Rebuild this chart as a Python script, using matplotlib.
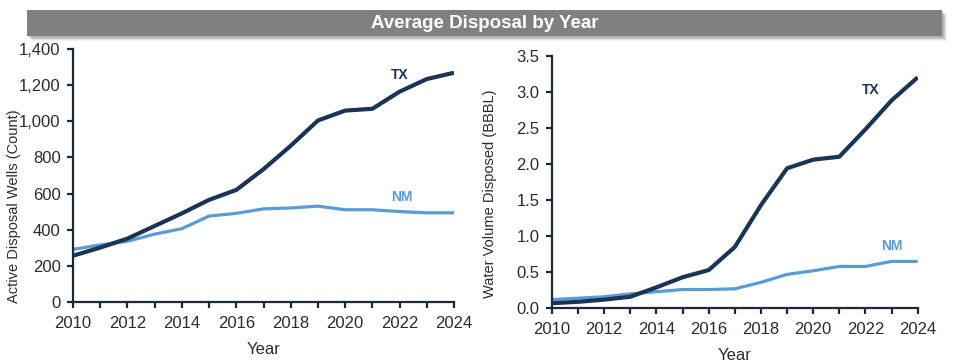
import matplotlib
matplotlib.use('Agg')
import matplotlib.pyplot as plt
from matplotlib.patches import Rectangle
from matplotlib.ticker import FuncFormatter

plt.rcParams['font.family'] = ['Liberation Sans', 'DejaVu Sans']

years = list(range(2010, 2025))
# active disposal wells (count)
tx_wells = [255, 300, 350, 420, 490, 565, 620, 735, 865, 1005, 1060, 1070, 1165, 1235, 1270]
nm_wells = [290, 315, 335, 375, 405, 475, 490, 515, 520, 530, 510, 510, 500, 493, 493]
# water volume disposed (BBBL)
tx_vol = [0.07, 0.09, 0.12, 0.16, 0.29, 0.43, 0.53, 0.85, 1.43, 1.94, 2.06, 2.10, 2.48, 2.88, 3.20]
nm_vol = [0.12, 0.14, 0.16, 0.20, 0.23, 0.26, 0.26, 0.27, 0.36, 0.47, 0.52, 0.58, 0.58, 0.65, 0.65]

tx_col = '#1B3456'
nm_col = '#5B9BD5'
ax_col = '#1A2A3C'
txt_col = '#262C36'

fig = plt.figure(figsize=(9.55, 3.64), dpi=100)

# title bar with shadow
W, H = 955, 364
for i, a in enumerate([0.05, 0.07, 0.09, 0.12]):
    off = 5 - i
    fig.patches.append(Rectangle(((27 + off) / W, 1 - (36 + off) / H), 915 / W, 26 / H,
                                 transform=fig.transFigure, facecolor='black', alpha=a,
                                 edgecolor='none', zorder=0))
fig.patches.append(Rectangle((27 / W, 1 - 36 / H), 915 / W, 26 / H, transform=fig.transFigure,
                             facecolor='#808080', edgecolor='none', zorder=1))
fig.text(485 / W, 1 - 23 / H, 'Average Disposal by Year', color='white', fontsize=13.5,
         fontweight='bold', ha='center', va='center', zorder=2)

ax1 = fig.add_axes([73 / W, 1 - 301.7 / H, 381 / W, 252.4 / H])
ax2 = fig.add_axes([552 / W, 1 - 308.3 / H, 365.7 / W, 252.6 / H])


def style(ax):
    for s in ['top', 'right']:
        ax.spines[s].set_visible(False)
    for s in ['left', 'bottom']:
        ax.spines[s].set_color(ax_col)
        ax.spines[s].set_linewidth(1.6)
    ax.tick_params(axis='both', colors=ax_col, labelcolor=txt_col, labelsize=12,
                   width=1.6, length=4, direction='out')
    ax.tick_params(axis='x', pad=6)
    ax.tick_params(axis='y', pad=5)
    ax.set_xlim(2010, 2024)
    ax.set_xticks(years)
    ax.set_xticklabels([str(y) if y % 2 == 0 else '' for y in years])
    ax.set_xlabel('Year', fontsize=12, color=txt_col, labelpad=8)


ax1.plot(years, nm_wells, color=nm_col, lw=2.3, solid_capstyle='butt', zorder=2)
ax1.plot(years, tx_wells, color=tx_col, lw=3.0, solid_capstyle='butt', zorder=3)
ax1.set_ylim(0, 1400)
ax1.set_yticks(range(0, 1401, 200))
ax1.yaxis.set_major_formatter(FuncFormatter(lambda v, p: f'{int(v):,}'))
ax1.set_ylabel('Active Disposal Wells (Count)', fontsize=10.5, color=txt_col)
ax1.yaxis.set_label_coords(-0.137, 0.38)
ax1.text(2022, 1257, 'TX', color=tx_col, fontsize=10, fontweight='bold', ha='center', va='center')
ax1.text(2022.1, 580, 'NM', color=nm_col, fontsize=10, fontweight='bold', ha='center', va='center')
style(ax1)

ax2.plot(years, nm_vol, color=nm_col, lw=2.3, solid_capstyle='butt', zorder=2)
ax2.plot(years, tx_vol, color=tx_col, lw=3.0, solid_capstyle='butt', zorder=3)
ax2.set_ylim(0, 3.5)
ax2.set_yticks([0, 0.5, 1.0, 1.5, 2.0, 2.5, 3.0, 3.5])
ax2.yaxis.set_major_formatter(FuncFormatter(lambda v, p: f'{v:.1f}'))
ax2.set_ylabel('Water Volume Disposed (BBBL)', fontsize=10.5, color=txt_col)
ax2.yaxis.set_label_coords(-0.150, 0.452)
ax2.text(2022.2, 3.02, 'TX', color=tx_col, fontsize=10, fontweight='bold', ha='center', va='center')
ax2.text(2023, 0.86, 'NM', color=nm_col, fontsize=10, fontweight='bold', ha='center', va='center')
style(ax2)

fig.savefig('out.png', dpi=100)
